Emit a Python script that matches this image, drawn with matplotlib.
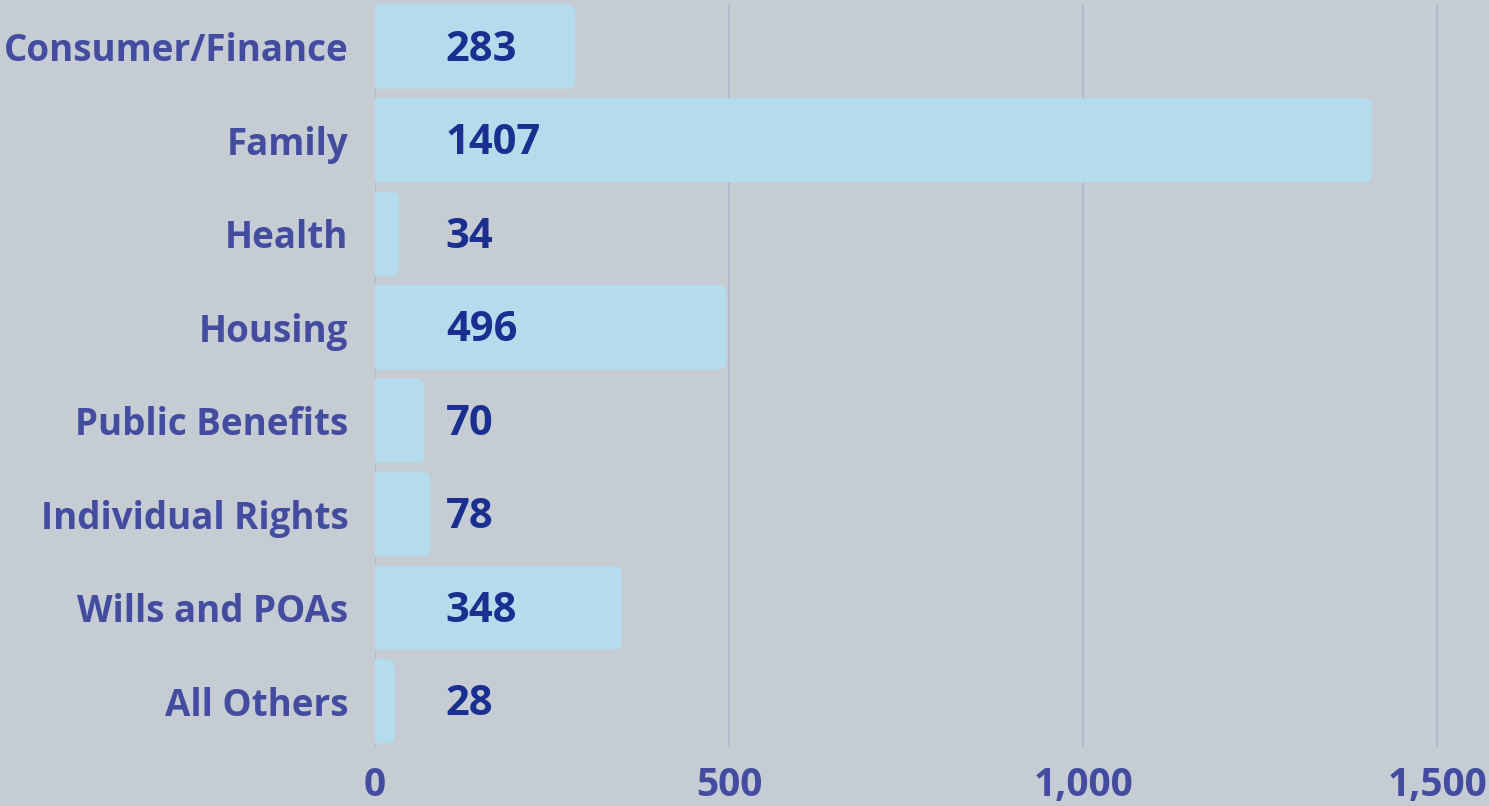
import matplotlib.pyplot as plt
from matplotlib.patches import FancyBboxPatch
from matplotlib.ticker import FuncFormatter

categories = ["Consumer/Finance", "Family", "Health", "Housing",
              "Public Benefits", "Individual Rights", "Wills and POAs", "All Others"]
values = [283, 1407, 34, 496, 70, 78, 348, 28]
xticks = [0, 500, 1000, 1500]

bg = "#c5ccd4"
bar_color = "#b5dced"
label_color = "#444ca0"
value_color = "#1a2f8f"
grid_color = "#b3bacb"

plt.rcParams['font.family'] = ['Open Sans', 'DejaVu Sans']

fig = plt.figure(figsize=(14.89, 8.06), dpi=100, facecolor=bg)
ax = fig.add_axes([375 / 1489, 1 - 748 / 806, 1 - 375 / 1489, 748 / 806])
ax.set_facecolor(bg)

n = len(categories)
ax.set_xlim(0, 1573)
ax.set_ylim(n - 0.5, -0.5)

# px per data unit, used to keep corner rounding circular
px_x = (1489 - 375) / 1573
px_y = 748 / n
r_px = 8
for i, v in enumerate(values):
    h = 0.9
    box = FancyBboxPatch((-30, i - h / 2), v + 30, h,
                         boxstyle=f"round,pad=0,rounding_size={r_px / px_x}",
                         mutation_aspect=(px_x / px_y),
                         facecolor=bar_color, edgecolor="none", zorder=2)
    ax.add_patch(box)
    ax.text(100, i + 0.035, str(v), va="center", ha="left", fontsize=30,
            fontweight="bold", color=value_color, zorder=3)

for x in xticks:
    ax.axvline(x, ymin=0.003, ymax=0.993, color=grid_color, lw=1.5, zorder=1)

ax.set_yticks(range(n))
ax.set_yticklabels(categories, fontsize=26.5, fontweight="bold", color=label_color)
ax.set_xticks(xticks)
ax.xaxis.set_major_formatter(FuncFormatter(lambda x, p: f"{int(x):,}"))
for lab in ax.get_xticklabels():
    lab.set_fontsize(28)
    lab.set_fontweight("bold")
    lab.set_color(label_color)
ax.tick_params(length=0)
ax.tick_params(axis="y", pad=19)
ax.tick_params(axis="x", pad=13)
for s in ax.spines.values():
    s.set_visible(False)

fig.savefig("out.png", dpi=100, facecolor=bg)
